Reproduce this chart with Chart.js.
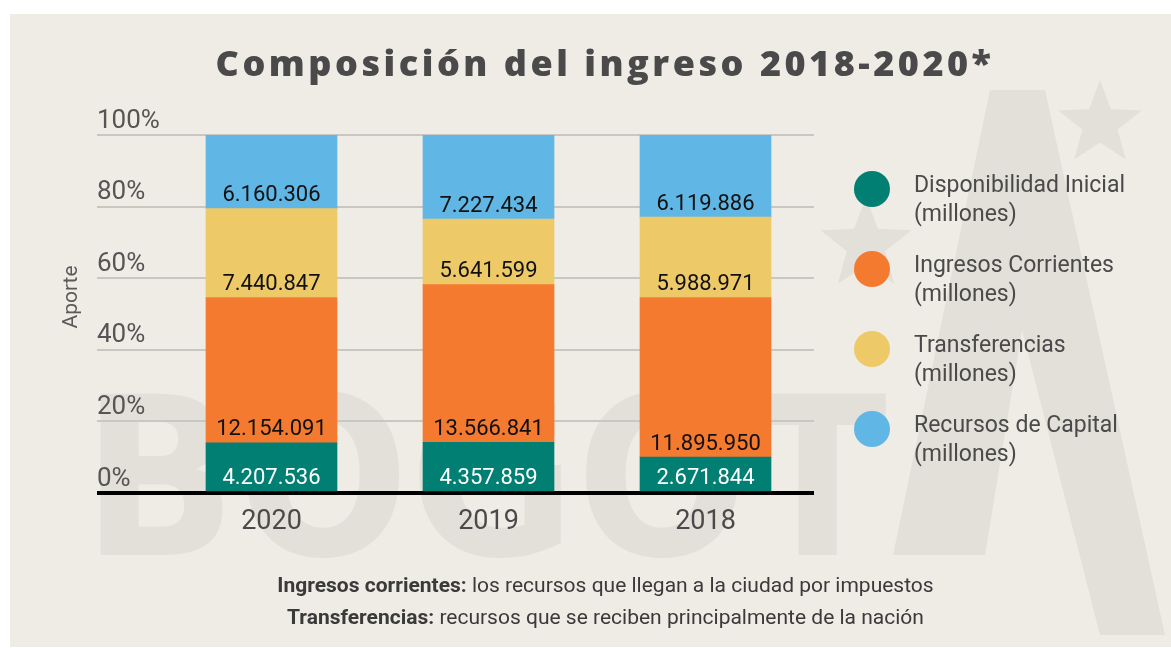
<!DOCTYPE html>
<html>
<head>
<meta charset="utf-8">
<script src="https://cdn.jsdelivr.net/npm/chart.js@4"></script>
<style>
  body { margin: 0; background: #fff; width: 1171px; height: 648px; position: relative; overflow: hidden; font-family: Roboto, sans-serif; }
  #panel { position: absolute; left: 10px; top: 14px; width: 1161px; height: 633px; background: #efece6; }
  #chart { position: absolute; left: 0; top: 0; }
  #title { position: absolute; left: 0; top: 40px; width: 1210px; text-align: center; line-height: 46px;
           font-family: 'Open Sans', sans-serif; font-weight: 800; font-size: 36px; letter-spacing: 3.5px; color: #4a4a4a; }
  .note { position: absolute; left: 0; width: 1211px; text-align: center; font-size: 21px; color: #3a3a3a; line-height: 24px; }
  .note b { font-weight: 700; }
</style>
</head>
<body>
<div id="panel"></div>
<canvas id="chart" width="1171" height="648"></canvas>
<div id="title">Composición del ingreso 2018-2020*</div>
<div class="note" style="top:573px"><b>Ingresos corrientes:</b> los recursos que llegan a la ciudad por impuestos</div>
<div class="note" style="top:605px"><b>Transferencias:</b> recursos que se reciben principalmente de la nación</div>
<script>
const years = ['2020', '2019', '2018'];
const disponibilidad = [4207536, 4357859, 2671844];
const corrientes = [12154091, 13566841, 11895950];
const transferencias = [7440847, 5641599, 5988971];
const capital = [6160306, 7227434, 6119886];
const seriesNames = ['Disponibilidad Inicial', 'Ingresos Corrientes', 'Transferencias', 'Recursos de Capital'];
const seriesColors = ['#017f72', '#f37a2f', '#eec968', '#60b6e4'];
const unitLabel = '(millones)';
const yTitle = 'Aporte';

const rawSeries = [disponibilidad, corrientes, transferencias, capital];
const totals = years.map((_, i) => rawSeries.reduce((s, arr) => s + arr[i], 0));

const fmt = v => String(v).replace(/\B(?=(\d{3})+(?!\d))/g, '.');

const datasets = rawSeries.map((arr, k) => ({
    label: seriesNames[k],
    raw: arr,
    data: arr.map((v, i) => v / totals[i] * 100),
    backgroundColor: seriesColors[k],
    borderWidth: 0,
    barThickness: 131
}));

function star(ctx, cx, cy, r) {
    ctx.beginPath();
    for (let i = 0; i < 10; i++) {
        const rr = i % 2 ? r * 0.42 : r;
        const a = -Math.PI / 2 + i * Math.PI / 5;
        ctx.lineTo(cx + rr * Math.cos(a), cy + rr * Math.sin(a));
    }
    ctx.closePath();
    ctx.fill();
}

// faint BOGOTA watermark behind everything
const watermark = {
    id: 'watermark',
    beforeDraw(chart) {
        const ctx = chart.ctx;
        ctx.save();
        ctx.fillStyle = '#e3e0da';
        ctx.font = 'bold 222px "DejaVu Sans"';
        ctx.textBaseline = 'alphabetic';
        const w = ctx.measureText('BOGOT').width;
        ctx.translate(82, 555);
        ctx.scale(805 / w, 1);
        ctx.fillText('BOGOT', 0, 0);
        ctx.restore();

        ctx.save();
        ctx.fillStyle = '#e3e0da';
        ctx.beginPath();
        ctx.moveTo(990, 90);
        ctx.lineTo(1045, 90);
        ctx.lineTo(1165, 635);
        ctx.lineTo(1100, 635);
        ctx.lineTo(1022, 330);
        ctx.lineTo(985, 555);
        ctx.lineTo(893, 555);
        ctx.closePath();
        ctx.fill();
        star(ctx, 1100, 124, 44);
        star(ctx, 866, 245, 48);
        ctx.restore();
    }
};

// values written near the bottom of each segment, plus the rotated axis title
const segmentLabels = {
    id: 'segmentLabels',
    afterDatasetsDraw(chart) {
        const ctx = chart.ctx;
        ctx.save();
        ctx.font = '22px Roboto';
        ctx.textAlign = 'center';
        ctx.textBaseline = 'middle';
        chart.data.datasets.forEach((ds, k) => {
            chart.getDatasetMeta(k).data.forEach((bar, i) => {
                ctx.fillStyle = k === 0 ? '#ffffff' : '#111111';
                ctx.fillText(fmt(ds.raw[i]), bar.x, bar.base - 13);
            });
        });
        ctx.restore();

        const ys = chart.scales.y;
        ctx.save();
        ctx.font = '21px Roboto';
        ctx.fillStyle = '#5a5a5a';
        ctx.textAlign = 'center';
        ctx.textBaseline = 'middle';
        ctx.translate(ys.left + 16, (ys.top + ys.bottom) / 2 - 17);
        ctx.rotate(-Math.PI / 2);
        ctx.fillText(yTitle, 0, 0);
        ctx.restore();
    }
};

// legend on the right: circle + two text lines
const sideLegend = {
    id: 'sideLegend',
    afterDraw(chart) {
        const ctx = chart.ctx;
        const x0 = chart.chartArea.right + 58;
        ctx.save();
        ctx.textBaseline = 'middle';
        ctx.textAlign = 'left';
        ctx.font = '23px Roboto';
        chart.data.datasets.forEach((ds, k) => {
            const cy = 189 + k * 80;
            ctx.fillStyle = ds.backgroundColor;
            ctx.beginPath();
            ctx.arc(x0, cy, 18, 0, Math.PI * 2);
            ctx.fill();
            ctx.fillStyle = '#4a4a4a';
            ctx.fillText(ds.label, x0 + 42, cy - 3);
            ctx.fillText(unitLabel, x0 + 42, cy + 26);
        });
        ctx.restore();
    }
};

new Chart(document.getElementById('chart').getContext('2d'), {
    type: 'bar',
    data: {
        labels: years,
        datasets: datasets
    },
    plugins: [watermark, segmentLabels, sideLegend],
    options: {
        responsive: false,
        animation: false,
        layout: {
            padding: {left: 56, top: 135, right: 357, bottom: 105}
        },
        plugins: {
            legend: {display: false},
            tooltip: {enabled: false}
        },
        scales: {
            x: {
                stacked: true,
                grid: {display: false, drawTicks: false},
                border: {display: false},
                ticks: {
                    color: '#4a4a4a',
                    font: {family: 'Roboto', size: 27},
                    padding: 13
                },
                afterFit: scale => { scale.height = 50; }
            },
            y: {
                stacked: true,
                min: 0,
                max: 100,
                border: {display: false},
                grid: {
                    color: c => c.tick && c.tick.value === 0 ? '#000000' : '#c9c7c2',
                    lineWidth: c => c.tick && c.tick.value === 0 ? 4 : 2,
                    tickLength: 66
                },
                ticks: {
                    stepSize: 20,
                    mirror: true,
                    padding: -66,
                    labelOffset: -14,
                    color: '#555555',
                    font: {family: 'Roboto', size: 26},
                    callback: v => v + '%'
                },
                afterFit: scale => { scale.width = 107; }
            }
        }
    }
});
</script>
</body>
</html>
